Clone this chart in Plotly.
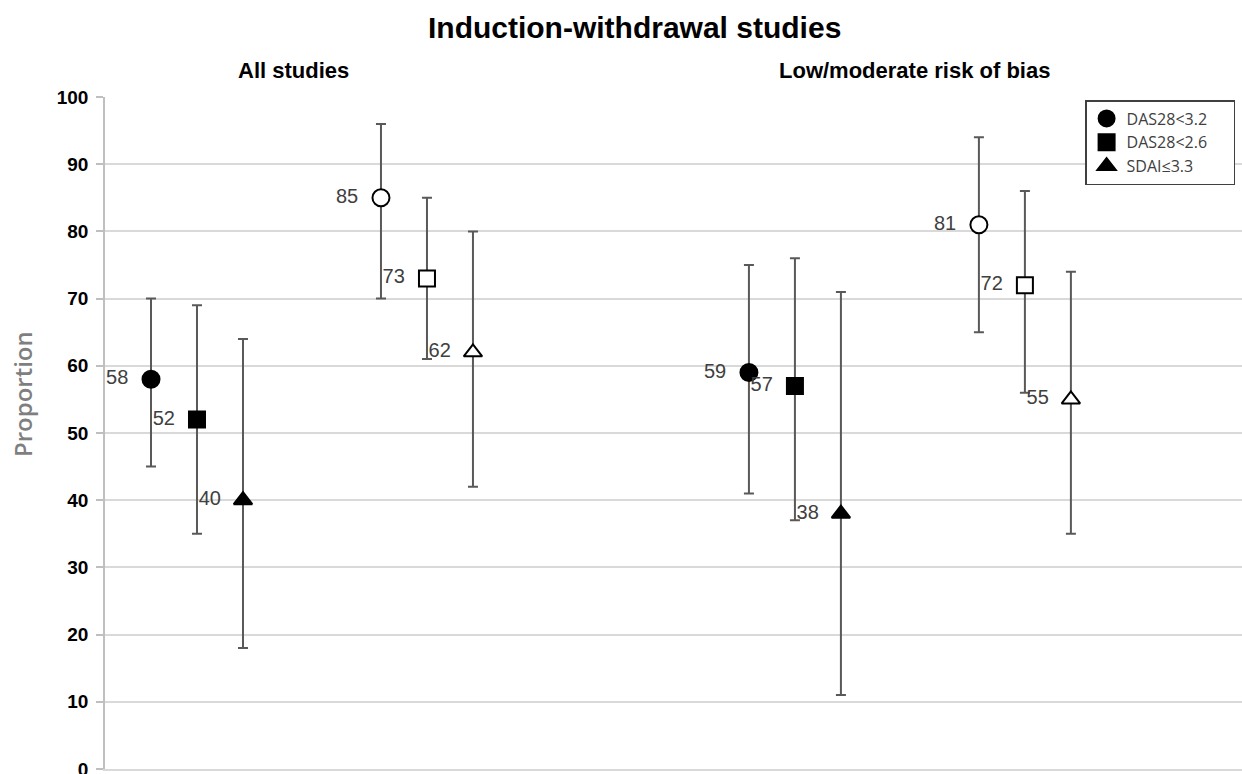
import plotly.graph_objects as go

# ---- data ----
measures = ["DAS28<3.2", "DAS28<2.6", "SDAI≤3.3"]
panels = ["All studies", "Low/moderate risk of bias"]
yticks = [0, 10, 20, 30, 40, 50, 60, 70, 80, 90, 100]

# All studies - filled markers
all_filled = [58, 52, 40]
all_filled_lo = [45, 35, 18]
all_filled_hi = [70, 69, 64]
# All studies - open markers
all_open = [85, 73, 62]
all_open_lo = [70, 61, 42]
all_open_hi = [96, 85, 80]
# Low/moderate risk of bias - filled markers
low_filled = [59, 57, 38]
low_filled_lo = [41, 37, 11]
low_filled_hi = [75, 76, 71]
# Low/moderate risk of bias - open markers
low_open = [81, 72, 55]
low_open_lo = [65, 56, 35]
low_open_hi = [94, 86, 74]

# ---- styling ----
symbols = ["circle", "square", "triangle-up"]
sizes = [17, 16, 16]
font = "Liberation Sans, Arial, sans-serif"
bar_color = "#595959"
label_color = "#404040"
legend_pad = "\u00a0" * 5

subsets = [
    ("filled", [all_filled, low_filled], [all_filled_lo, low_filled_lo], [all_filled_hi, low_filled_hi]),
    ("open", [all_open, low_open], [all_open_lo, low_open_lo], [all_open_hi, low_open_hi]),
]

fig = go.Figure()
for s_idx, (kind, vals, los, his) in enumerate(subsets):
    for m_idx, name in enumerate(measures):
        xs, ys, em, ep = [], [], [], []
        for p_idx in range(len(panels)):
            v = vals[p_idx][m_idx]
            xs.append(p_idx * 13 + s_idx * 5 + m_idx + 1)
            ys.append(v)
            em.append(v - los[p_idx][m_idx])
            ep.append(his[p_idx][m_idx] - v)
        filled = kind == "filled"
        fig.add_trace(go.Scatter(
            x=xs, y=ys, mode="markers+text",
            name=name + legend_pad, legendgroup=name, showlegend=filled,
            text=[f"{v}\u00a0\u00a0" for v in ys], textposition="middle left",
            textfont=dict(family=font, size=20, color=label_color),
            marker=dict(symbol=symbols[m_idx], size=sizes[m_idx],
                        color="black" if filled else "white",
                        line=dict(color="black", width=2)),
            error_y=dict(type="data", symmetric=False, array=ep, arrayminus=em,
                         color=bar_color, thickness=2, width=5),
            cliponaxis=False,
        ))

fig.update_layout(
    width=1242, height=774, autosize=False,
    paper_bgcolor="white", plot_bgcolor="white",
    margin=dict(l=105, r=0, t=97, b=5, autoexpand=False),
    font=dict(family=font, color="black"),
    title=dict(text="<b>Induction-withdrawal studies</b>", x=0.511, xref="container",
               xanchor="center", y=0.965, yref="container", yanchor="middle",
               font=dict(family=font, size=30, color="black")),
    showlegend=True,
    legend=dict(x=0.862, xanchor="left", y=0.9955, yanchor="top",
                bordercolor="#404040", borderwidth=1.5, bgcolor="white",
                font=dict(family="Open Sans, sans-serif", size=16, color=label_color),
                itemwidth=30, tracegroupgap=0),
    xaxis=dict(range=[0, 24.72], showgrid=False, zeroline=False, showticklabels=False,
               ticks="", showline=True, linecolor="#d9d9d9", linewidth=1.5,
               fixedrange=True, automargin=False),
    yaxis=dict(range=[0, 100], tickvals=yticks, showgrid=True, gridcolor="#d9d9d9",
               gridwidth=1.5, zeroline=False, showline=True, linecolor="#bfbfbf",
               linewidth=1.5, ticks="outside", ticklen=7, tickcolor="#bfbfbf",
               tickwidth=1.5, automargin=False, ticklabeloverflow="allow",
               ticklabelstandoff=4,
               tickfont=dict(family=font, size=19, color="black", weight="bold")),
    annotations=[
        dict(text="<b>" + panels[0] + "</b>", x=4.1, xref="x", y=1.040, yref="paper",
             showarrow=False, xanchor="center", yanchor="middle",
             font=dict(family=font, size=22, color="black")),
        dict(text="<b>" + panels[1] + "</b>", x=17.6, xref="x", y=1.040, yref="paper",
             showarrow=False, xanchor="center", yanchor="middle",
             font=dict(family=font, size=22, color="black")),
        dict(text="Proportion", x=-0.073, xref="paper", y=0.558, yref="paper",
             showarrow=False, textangle=-90, xanchor="center", yanchor="middle",
             font=dict(family="Open Sans, sans-serif", size=24, color="#7f7f7f",
                       weight=600)),
    ],
)

fig.write_html("out.html", config={"displayModeBar": False},
               post_script="document.body.style.margin='0';")
